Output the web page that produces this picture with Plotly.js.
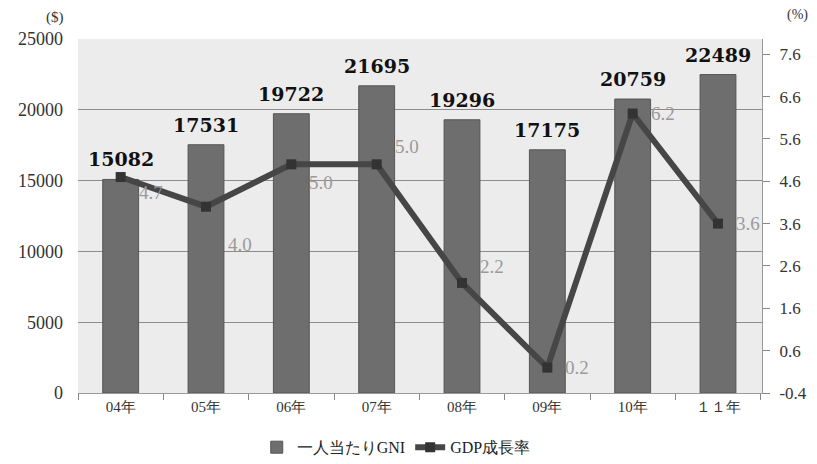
<!DOCTYPE html>
<html><head><meta charset="utf-8">
<script src="https://cdn.plot.ly/plotly-3.0.1.min.js"></script>
<style>html,body{margin:0;padding:0;background:#fff}#c{width:817px;height:464px}</style>
</head><body><div id="c"></div>
<script>
const categories = ["04年","05年","06年","07年","08年","09年","10年","１１年"];
const gniValues = [15082, 17531, 19722, 21695, 19296, 17175, 20759, 22489];
const gdpGrowth = [4.7, 4.0, 5.0, 5.0, 2.2, 0.2, 6.2, 3.6];
const leftTicks = [0, 5000, 10000, 15000, 20000, 25000];
const rightTicks = [-0.4, 0.6, 1.6, 2.6, 3.6, 4.6, 5.6, 6.6, 7.6];
// label pixel offsets for growth labels (style)
const gdpLabelShift = [[30,-15],[34,-38],[30,-18],[30,18],[30,16],[30,0],[30,0],[30,0]];

const serif = "DejaVu Serif, Liberation Serif, serif";
const serif2 = "Liberation Serif, DejaVu Serif, serif";
const traces = [
  {type:'bar', name:'一人当たりGNI', x:categories, y:gniValues,
   marker:{color:'#6e6e6e', line:{color:'#555', width:1}}},
  {type:'scatter', mode:'lines+markers', name:'GDP成長率', x:categories, y:gdpGrowth, yaxis:'y2',
   line:{color:'#464646', width:6}, marker:{symbol:'square', size:10, color:'#333'}}
];
const annotations = gdpGrowth.map((v,i)=>({x:categories[i], y:v, xref:'x', yref:'y2',
  text:v.toFixed(1), showarrow:false, xshift:gdpLabelShift[i][0], yshift:gdpLabelShift[i][1],
  font:{family:serif2, size:19, color:'#9a9a9a'}}));
gniValues.forEach((v,i)=>annotations.push({x:categories[i], y:v, xref:'x', yref:'y',
  text:'<b>'+v+'</b>', showarrow:false, yanchor:'bottom', yshift:7,
  font:{family:serif, size:19, color:'#111'}}));
annotations.push({xref:'paper', yref:'paper', x:-0.05, y:1.09, text:'($)', showarrow:false,
  font:{family:serif2, size:15, color:'#333'}});
annotations.push({xref:'paper', yref:'paper', x:1.07, y:1.095, text:'(%)', showarrow:false,
  font:{family:serif2, size:14, color:'#333'}});

const layout = {
  width:817, height:464, margin:{l:78, r:55, t:39, b:71},
  paper_bgcolor:'#fff', plot_bgcolor:'#ececec',
  bargap:0.58, showlegend:true,
  legend:{orientation:'h', xref:'container', yref:'container', x:0.485, xanchor:'center',
    y:0.036, yanchor:'middle', font:{family:serif2, size:16, color:'#222'}},
  xaxis:{type:'category', showgrid:false, ticks:'outside', ticklen:6, tickcolor:'#888',
    tickson:'boundaries', showline:true, linecolor:'#999', linewidth:1,
    tickfont:{family:serif2, size:15, color:'#333'}},
  yaxis:{range:[0,25000], tickvals:leftTicks, ticktext:leftTicks.map(String), showgrid:true,
    gridcolor:'#8c8c8c', gridwidth:1,
    zeroline:false, ticks:'', tickfont:{family:serif2, size:18, color:'#333'}, ticklabelstandoff:14},
  yaxis2:{overlaying:'y', side:'right', range:[-0.4,7.96], tickvals:rightTicks,
    ticktext:rightTicks.map(v=>v.toFixed(1)), showgrid:false, zeroline:false,
    ticks:'outside', ticklen:7, tickcolor:'#888', showline:true, linecolor:'#999',
    tickfont:{family:serif2, size:17, color:'#333'}, ticklabelstandoff:6},
  annotations:annotations
};
Plotly.newPlot('c', traces, layout, {displayModeBar:false});
</script></body></html>
